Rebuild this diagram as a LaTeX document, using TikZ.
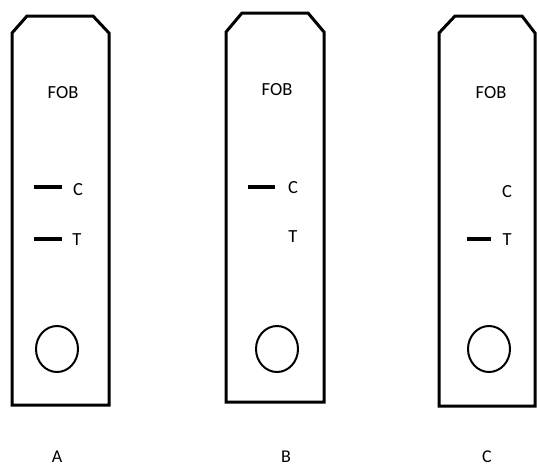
\documentclass[tikz,border=0pt]{standalone}
\usepackage{fontspec}
\setmainfont{Carlito}
\begin{document}
\begin{tikzpicture}[x=1pt,y=-1pt,
  strip/.style={draw=black,line width=3pt,line join=miter},
  well/.style={draw=black,line width=2pt},
  band/.style={draw=black,line width=3.2pt},
  lbl/.style={font=\fontsize{18.5}{18.5}\selectfont,text=black,inner sep=0pt},
  caption/.style={font=\fontsize{18}{18}\selectfont,text=black,inner sep=0pt}]
\useasboundingbox (0,0) rectangle (537,469);

% strip A: both bands
\draw[strip] (12,33) -- (27,16) -- (93,16) -- (109,33) -- (109,405) -- (12,405) -- cycle;
\node[lbl] (fobA) at (63,93) {FOB};
\coordinate (cAl) at (34,187); \coordinate (cAr) at (62,187);
\coordinate (tAl) at (34,239); \coordinate (tAr) at (62,239);
\draw[band] (cAl) -- (cAr);
\draw[band] (tAl) -- (tAr);
\node[lbl] (cA) at (78,190) {C};
\node[lbl] (tA) at (77,240) {T};
\draw[well] (57,349) ellipse [x radius=21, y radius=23];
\node[caption] (capA) at (57,457) {A};

% strip B: control band only
\draw[strip] (226,32) -- (242,13) -- (308,13) -- (324,32) -- (324,402) -- (226,402) -- cycle;
\node[lbl] (fobB) at (277,90) {FOB};
\coordinate (cBl) at (248,187); \coordinate (cBr) at (275,187);
\draw[band] (cBl) -- (cBr);
\node[lbl] (cB) at (293,188) {C};
\node[lbl] (tB) at (293,237) {T};
\draw[well] (277,349) ellipse [x radius=21, y radius=23];
\node[caption] (capB) at (286,457) {B};

% strip C: test band only
\draw[strip] (439,33) -- (455,16) -- (522,16) -- (535,33) -- (535,406) -- (439,406) -- cycle;
\node[lbl] (fobC) at (491,93) {FOB};
\coordinate (tCl) at (467,239); \coordinate (tCr) at (491,239);
\draw[band] (tCl) -- (tCr);
\node[lbl] (cC) at (507,192) {C};
\node[lbl] (tC) at (507,240) {T};
\draw[well] (489,349) ellipse [x radius=21, y radius=23];
\node[caption] (capC) at (487,457) {C};
\end{tikzpicture}
\end{document}
